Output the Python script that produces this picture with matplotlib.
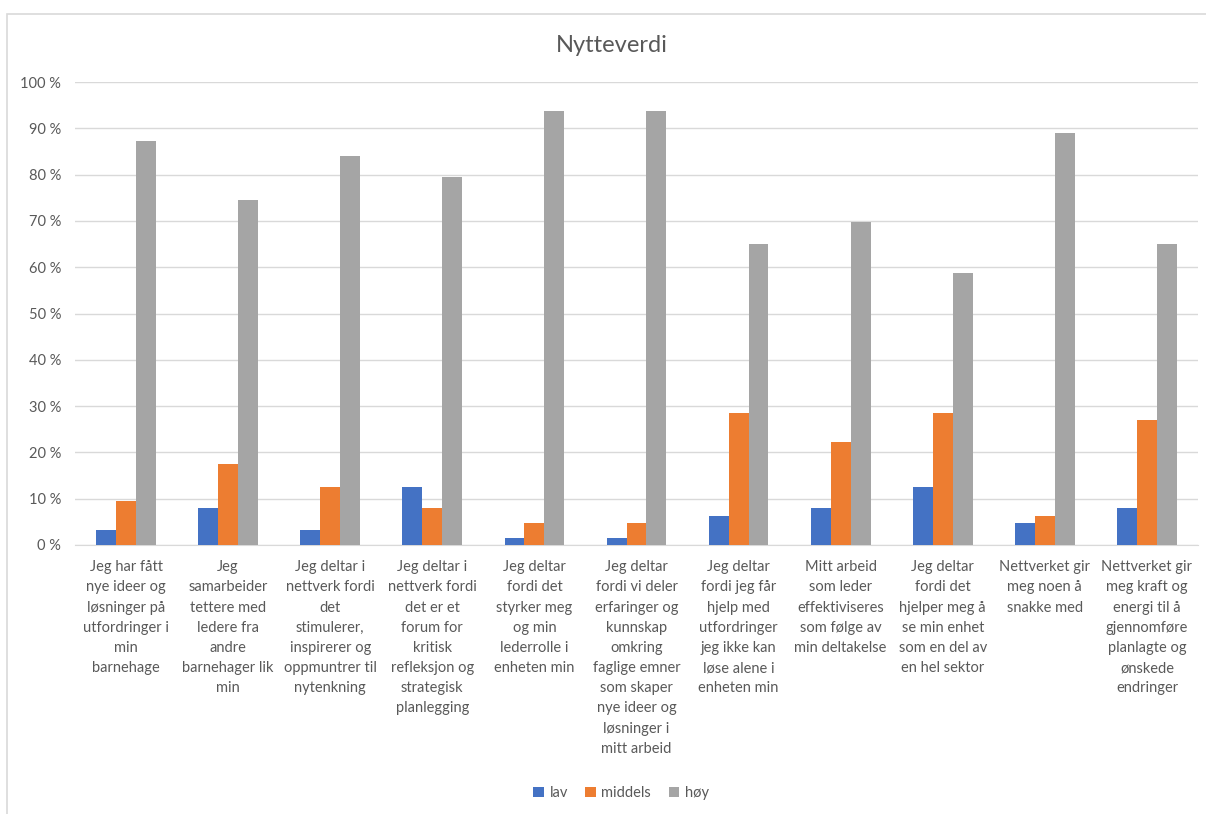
import numpy as np
import matplotlib
matplotlib.use('Agg')
import matplotlib.pyplot as plt
from matplotlib.patches import Rectangle

categories = [
    'Jeg har fått\nnye ideer og\nløsninger på\nutfordringer i\nmin\nbarnehage',
    'Jeg\nsamarbeider\ntettere med\nledere fra\nandre\nbarnehager lik\nmin',
    'Jeg deltar i\nnettverk fordi\ndet\nstimulerer,\ninspirerer og\noppmuntrer til\nnytenkning',
    'Jeg deltar i\nnettverk fordi\ndet er et\nforum for\nkritisk\nrefleksjon og\nstrategisk\nplanlegging',
    'Jeg deltar\nfordi det\nstyrker meg\nog min\nlederrolle i\nenheten min',
    'Jeg deltar\nfordi vi deler\nerfaringer og\nkunnskap\nomkring\nfaglige emner\nsom skaper\nnye ideer og\nløsninger i\nmitt arbeid',
    'Jeg deltar\nfordi jeg får\nhjelp med\nutfordringer\njeg ikke kan\nløse alene i\nenheten min',
    'Mitt arbeid\nsom leder\neffektiviseres\nsom følge av\nmin deltakelse',
    'Jeg deltar\nfordi det\nhjelper meg å\nse min enhet\nsom en del av\nen hel sektor',
    'Nettverket gir\nmeg noen å\nsnakke med',
    'Nettverket gir\nmeg kraft og\nenergi til å\ngjennomføre\nplanlagte og\nønskede\nendringer',
]

lav = [3.2, 7.9, 3.2, 12.6, 1.6, 1.6, 6.3, 7.9, 12.6, 4.8, 7.9]
middels = [9.5, 17.4, 12.6, 7.9, 4.8, 4.8, 28.5, 22.2, 28.5, 6.3, 26.9]
hoy = [87.3, 74.6, 84.1, 79.4, 93.7, 93.7, 65.1, 69.8, 58.7, 88.9, 65.1]

series = [('lav', lav, '#4472C4'), ('middels', middels, '#ED7D31'), ('høy', hoy, '#A5A5A5')]

plt.rcParams['font.family'] = ['Lato', 'DejaVu Sans']
txt = '#595959'

fig = plt.figure(figsize=(12.06, 8.14), dpi=100)
fig.patches.append(Rectangle((7 / 1206, -0.05), 1.2, 1.05 - 14 / 814, transform=fig.transFigure,
                             fill=False, edgecolor='#d9d9d9', linewidth=1.2))
ax = fig.add_axes([75 / 1206, 1 - 545 / 814, 1123 / 1206, 463 / 814])

x = np.arange(len(categories))
w = 0.195
for i, (name, vals, col) in enumerate(series):
    ax.bar(x + (i - 1) * w, np.array(vals) / 100, w, color=col, label=name, zorder=3)

ax.set_xlim(-0.5, len(categories) - 0.5)
ax.set_ylim(0, 1.0)
ax.set_yticks(np.arange(0, 1.01, 0.1))
ax.set_yticklabels([f'{int(round(v * 100))} %' for v in np.arange(0, 1.01, 0.1)])
ax.set_xticks(x)
ax.set_xticklabels(categories, linespacing=1.56, va='top')
ax.tick_params(axis='both', length=0, labelsize=10.5, labelcolor=txt)
ax.tick_params(axis='x', pad=11)
ax.tick_params(axis='y', pad=10)
ax.grid(axis='y', color='#d9d9d9', linewidth=1, zorder=0)
for s in ['top', 'right', 'left']:
    ax.spines[s].set_visible(False)
ax.spines['bottom'].set_color('#d9d9d9')

fig.text(0.507, 1 - 45 / 814, 'Nytteverdi', ha='center', va='center', fontsize=17, color=txt)
fig.legend(loc='center', bbox_to_anchor=(0.515, 1 - 793 / 814), ncol=3, frameon=False,
           fontsize=10.5, labelcolor=txt, handlelength=0.7, handleheight=0.7,
           handletextpad=0.4, columnspacing=1.2)

fig.savefig('out.png', dpi=100)
